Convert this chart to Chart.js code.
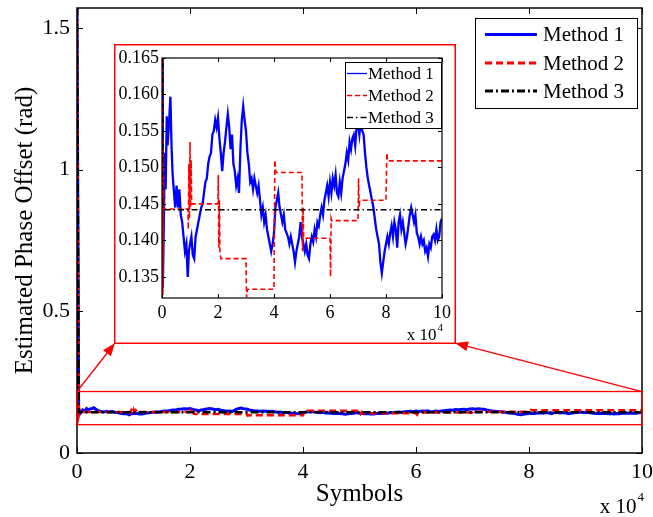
<!DOCTYPE html>
<html>
<head>
<meta charset="utf-8">
<script src="https://cdn.jsdelivr.net/npm/chart.js@4.4.1/dist/chart.umd.min.js"></script>
<style>
  html, body { margin: 0; padding: 0; background: #fff; }
  #wrap { position: relative; width: 653px; height: 517px; }
  #mainChart { position: absolute; left: 0; top: 0; }
  #insetChart { position: absolute; left: 114px; top: 44px; }
</style>
</head>
<body>
<div id="wrap">
  <canvas id="mainChart" width="653" height="517"></canvas>
  <canvas id="insetChart" width="342" height="300"></canvas>
</div>
<script>
// ---------------- data (x in units of 10^4 symbols) ----------------
const START = 1.5708;   // initial phase estimate (pi/2)

const m1X = [0, 0.03, 0.06, 0.1, 0.13, 0.17, 0.2, 0.25, 0.3, 0.34, 0.38, 0.42, 0.47, 0.52, 0.57, 0.62, 0.67, 0.72, 0.77, 0.82, 0.87, 0.92, 0.96,
  1.0, 1.05, 1.1, 1.15, 1.2, 1.25, 1.3, 1.35, 1.4, 1.45, 1.5, 1.55, 1.6, 1.65, 1.7, 1.75, 1.8, 1.85, 1.9, 1.95,
  2.0, 2.05, 2.1, 2.15, 2.2, 2.25, 2.3, 2.35, 2.4, 2.45, 2.5, 2.55, 2.6, 2.65, 2.7, 2.75, 2.8, 2.85, 2.9, 2.95,
  3.0, 3.05, 3.1, 3.15, 3.2, 3.25, 3.3, 3.35, 3.4, 3.45, 3.5, 3.55, 3.6, 3.65, 3.7, 3.75, 3.8, 3.85, 3.9, 3.95,
  4.0, 4.05, 4.1, 4.15, 4.2, 4.25, 4.3, 4.35, 4.4, 4.45, 4.5, 4.55, 4.6, 4.65, 4.7, 4.75, 4.8, 4.85, 4.9, 4.95,
  5.0, 5.05, 5.1, 5.15, 5.2, 5.25, 5.3, 5.35, 5.4, 5.45, 5.5, 5.55, 5.6, 5.65, 5.7, 5.75, 5.8, 5.85, 5.9, 5.95,
  6.0, 6.05, 6.1, 6.15, 6.2, 6.25, 6.3, 6.35, 6.4, 6.45, 6.5, 6.55, 6.6, 6.65, 6.7, 6.75, 6.8, 6.85, 6.9, 6.95,
  7.0, 7.05, 7.1, 7.15, 7.2, 7.25, 7.3, 7.35, 7.4, 7.45, 7.5, 7.55, 7.6, 7.65, 7.7, 7.75, 7.8, 7.85, 7.9, 7.95,
  8.0, 8.05, 8.1, 8.15, 8.2, 8.25, 8.3, 8.35, 8.4, 8.45, 8.5, 8.55, 8.6, 8.65, 8.7, 8.75, 8.8, 8.85, 8.9, 8.95,
  9.0, 9.05, 9.1, 9.15, 9.2, 9.25, 9.3, 9.35, 9.4, 9.45, 9.5, 9.55, 9.6, 9.65, 9.7, 9.75, 9.8, 9.85, 9.9, 9.95, 10.0];
const m1Y = [START, 0.1335, 0.141, 0.152, 0.147, 0.157, 0.153, 0.156, 0.1597, 0.153, 0.149, 0.147, 0.1445, 0.1475, 0.1445, 0.147, 0.1435, 0.1425, 0.1405, 0.1385, 0.1395, 0.135, 0.1385,
  0.1395, 0.1405, 0.138, 0.1375, 0.1405, 0.1415, 0.1425, 0.1435, 0.1445, 0.145, 0.1465, 0.148, 0.1485, 0.1505, 0.1515, 0.152, 0.1545, 0.155, 0.1565, 0.1555,
  0.1568, 0.154, 0.152, 0.1495, 0.152, 0.1535, 0.1555, 0.1573, 0.1555, 0.1525, 0.1545, 0.1505, 0.1495, 0.1475, 0.1485, 0.1465, 0.1525, 0.1565, 0.1584, 0.1565,
  0.155, 0.152, 0.1505, 0.148, 0.1485, 0.147, 0.1485, 0.1475, 0.1465, 0.1475, 0.1455, 0.1435, 0.1445, 0.1425, 0.1435, 0.1415, 0.1405, 0.1395, 0.1385, 0.1395,
  0.141, 0.1445, 0.1455, 0.1465, 0.1445, 0.1435, 0.1425, 0.1435, 0.1415, 0.141, 0.1405, 0.1395, 0.1405, 0.1395, 0.1385, 0.137, 0.1385, 0.1395, 0.1405, 0.1425,
  0.1405, 0.1395, 0.1385, 0.1395, 0.138, 0.1375, 0.1395, 0.1405, 0.1398, 0.1415, 0.1405, 0.1425, 0.142, 0.1435, 0.1445, 0.1435, 0.1455, 0.1465, 0.1475, 0.146,
  0.148, 0.1465, 0.1485, 0.1475, 0.149, 0.1465, 0.146, 0.148, 0.1465, 0.1485, 0.1495, 0.1505, 0.152, 0.151, 0.1535, 0.1525, 0.154, 0.1545, 0.153, 0.1555,
  0.156, 0.1545, 0.1565, 0.155, 0.1545, 0.152, 0.15, 0.1485, 0.1475, 0.1465, 0.1455, 0.1445, 0.143, 0.1415, 0.1405, 0.1395, 0.137, 0.1355, 0.137, 0.1385,
  0.1395, 0.1405, 0.1395, 0.141, 0.142, 0.1405, 0.1425, 0.1415, 0.139, 0.1425, 0.1435, 0.1415, 0.1425, 0.141, 0.1395, 0.1405, 0.142, 0.1435, 0.1445, 0.1435,
  0.1425, 0.1435, 0.141, 0.1405, 0.1395, 0.1405, 0.1395, 0.14, 0.1385, 0.139, 0.1378, 0.1395, 0.139, 0.1405, 0.1408, 0.14, 0.1415, 0.14, 0.1405, 0.1425, 0.143];

const m2X = [0, 0.03, 0.05, 0.07, 0.93, 0.94, 0.96, 0.98, 1.0, 1.02, 1.04, 1.06,
  2.0, 2.01, 2.03, 2.05, 2.07, 2.1, 3.0, 3.02, 3.05, 4.0, 4.03, 4.06, 4.08,
  5.0, 5.02, 5.04, 5.06, 6.0, 6.02, 6.04, 6.06, 7.0, 7.02, 7.04, 7.06, 8.0, 8.03, 8.06, 10.0];
const m2Y = [START, 0.1325, 0.152, 0.1443, 0.1443, 0.1415, 0.1505, 0.143, 0.1535, 0.1445, 0.151, 0.145,
  0.145, 0.149, 0.139, 0.1455, 0.1385, 0.1375, 0.1375, 0.1322, 0.1333, 0.1333, 0.151, 0.1495, 0.1493,
  0.1493, 0.1385, 0.1445, 0.1403, 0.1403, 0.135, 0.143, 0.1427, 0.1427, 0.1485, 0.1445, 0.1455, 0.1455, 0.152, 0.1509, 0.1509];

const m3X = [0, 0.03, 10.0];
const m3Y = [START, 0.1442, 0.1442];

const seriesNames = ['Method 1', 'Method 2', 'Method 3'];
const mainYTicks = [0, 0.5, 1, 1.5];
const xTickStep = 2;
const insetYTickStep = 0.005;
const zoomBox = { x0: 0, x1: 10, y0: 0.1, y1: 0.217 };

// ---------------- helpers ----------------
const FONT = "'Liberation Serif', 'Times New Roman', serif";

function pts(xs, ys) {
  return xs.map((x, i) => ({ x: x, y: ys[i] }));
}

function makeDatasets(inset) {
  return [
    { label: seriesNames[0], data: pts(m1X, m1Y), borderColor: '#0000ff', borderWidth: inset ? 2.3 : 3,
      borderDash: [], order: 3 },
    { label: seriesNames[1], data: pts(m2X, m2Y), borderColor: '#ff0000', borderWidth: inset ? 1.6 : 2.5,
      borderDash: inset ? [5, 3] : [7, 4], order: 2 },
    { label: seriesNames[2], data: pts(m3X, m3Y), borderColor: '#000000', borderWidth: inset ? 1.3 : 2.5,
      borderDash: inset ? [6, 3, 1.5, 3] : [8, 3, 2, 3], order: 1 }
  ].map(d => Object.assign(d, { pointRadius: 0, tension: 0, fill: false, backgroundColor: d.borderColor }));
}

// drop chart.js' automatic label padding so the plot box lands where we want it
function noPad(s) {
  s.paddingTop = 0; s.paddingBottom = 0; s.paddingLeft = 0; s.paddingRight = 0;
}

// frame + inward MATLAB ticks
function drawFrame(chart, tickLen, lw) {
  const { ctx, chartArea: a, scales } = chart;
  ctx.save();
  ctx.strokeStyle = '#000';
  ctx.lineWidth = lw;
  ctx.strokeRect(a.left, a.top, a.right - a.left, a.bottom - a.top);
  ctx.lineWidth = 1;
  ctx.beginPath();
  scales.x.ticks.forEach(t => {
    const px = Math.round(scales.x.getPixelForValue(t.value)) + 0.5;
    ctx.moveTo(px, a.bottom); ctx.lineTo(px, a.bottom - tickLen);
    ctx.moveTo(px, a.top); ctx.lineTo(px, a.top + tickLen);
  });
  scales.y.ticks.forEach(t => {
    const py = Math.round(scales.y.getPixelForValue(t.value)) + 0.5;
    ctx.moveTo(a.left, py); ctx.lineTo(a.left + tickLen, py);
    ctx.moveTo(a.right, py); ctx.lineTo(a.right - tickLen, py);
  });
  ctx.stroke();
  ctx.restore();
}

function drawLegend(chart, box, lineX0, lineX1, textX, rowYs, fontSize, sampleWidth) {
  const ctx = chart.ctx;
  ctx.save();
  ctx.fillStyle = '#fff';
  ctx.fillRect(box.x, box.y, box.w, box.h);
  ctx.strokeStyle = '#000';
  ctx.lineWidth = 1;
  ctx.strokeRect(box.x + 0.5, box.y + 0.5, box.w, box.h);
  chart.data.datasets.forEach((ds, i) => {
    const y = rowYs[i];
    ctx.strokeStyle = ds.borderColor;
    ctx.lineWidth = sampleWidth;
    ctx.setLineDash(ds.borderDash || []);
    ctx.beginPath();
    ctx.moveTo(lineX0, y); ctx.lineTo(lineX1, y);
    ctx.stroke();
    ctx.setLineDash([]);
    ctx.fillStyle = '#000';
    ctx.font = fontSize + 'px ' + FONT;
    ctx.textBaseline = 'middle';
    ctx.textAlign = 'left';
    ctx.fillText(ds.label, textX, y + 1);
  });
  ctx.restore();
}

function drawExponent(ctx, xRight, yMid, fontSize) {
  ctx.save();
  ctx.fillStyle = '#000';
  ctx.textBaseline = 'middle';
  ctx.font = Math.round(fontSize * 0.62) + 'px ' + FONT;
  const supW = ctx.measureText('4').width;
  ctx.textAlign = 'right';
  ctx.fillText('4', xRight, yMid - fontSize * 0.45);
  ctx.font = fontSize + 'px ' + FONT;
  ctx.fillText('x 10', xRight - supW - 1, yMid);
  ctx.restore();
}

function arrow(ctx, x0, y0, x1, y1) {
  const ang = Math.atan2(y1 - y0, x1 - x0);
  const L = 13, W = 5;
  ctx.beginPath();
  ctx.moveTo(x0, y0);
  ctx.lineTo(x1 - L * Math.cos(ang), y1 - L * Math.sin(ang));
  ctx.stroke();
  ctx.beginPath();
  ctx.moveTo(x1, y1);
  ctx.lineTo(x1 - L * Math.cos(ang) + W * Math.sin(ang), y1 - L * Math.sin(ang) - W * Math.cos(ang));
  ctx.lineTo(x1 - L * Math.cos(ang) - W * Math.sin(ang), y1 - L * Math.sin(ang) + W * Math.cos(ang));
  ctx.closePath();
  ctx.fill();
}

// ---------------- main chart ----------------
const INSET_POS = { left: 114, top: 44, w: 342, h: 300 };

const mainDecor = {
  id: 'mainDecor',
  beforeDraw(chart) {
    const ctx = chart.ctx;
    ctx.save();
    ctx.fillStyle = '#fff';
    ctx.fillRect(0, 0, chart.width, chart.height);
    ctx.restore();
  },
  afterDraw(chart) {
    const { ctx, scales } = chart;
    drawFrame(chart, 6, 1.5);

    // zoomed region + arrows to the inset
    const zx0 = scales.x.getPixelForValue(zoomBox.x0), zx1 = scales.x.getPixelForValue(zoomBox.x1);
    const zy0 = scales.y.getPixelForValue(zoomBox.y1), zy1 = scales.y.getPixelForValue(zoomBox.y0);
    ctx.save();
    ctx.strokeStyle = '#ff0000';
    ctx.fillStyle = '#ff0000';
    ctx.lineWidth = 1.3;
    ctx.strokeRect(zx0, zy0, zx1 - zx0, zy1 - zy0);
    const ib = INSET_POS.top + INSET_POS.h - 1;
    arrow(ctx, zx0, zy0, INSET_POS.left + 1, ib);
    arrow(ctx, zx1, zy0, INSET_POS.left + INSET_POS.w - 1, ib);
    ctx.restore();

    drawLegend(chart, { x: 475, y: 18, w: 162, h: 90 }, 485, 537, 543, [34.5, 63, 91], 21, 3);
    drawExponent(ctx, 644, 507, 21);
  }
};

new Chart(document.getElementById('mainChart'), {
  type: 'line',
  data: { datasets: makeDatasets(false) },
  options: {
    responsive: false,
    animation: false,
    layout: { padding: { top: 8, right: 11, left: 0, bottom: 0 } },
    plugins: { legend: { display: false }, tooltip: { enabled: false } },
    scales: {
      x: {
        type: 'linear', min: 0, max: 10,
        grid: { display: false, drawTicks: false },
        border: { display: false },
        ticks: { stepSize: xTickStep, color: '#000', font: { family: FONT, size: 22 }, padding: 6, maxRotation: 0, autoSkip: false },
        title: { display: true, text: 'Symbols', color: '#000', font: { family: FONT, size: 25 }, padding: { top: 0, bottom: 8 } },
        afterFit: s => { s.height = 64; noPad(s); }
      },
      y: {
        type: 'linear', min: 0, max: START,
        grid: { display: false, drawTicks: false },
        border: { display: false },
        afterBuildTicks: s => { s.ticks = mainYTicks.map(v => ({ value: v })); },
        ticks: { color: '#000', font: { family: FONT, size: 22 }, padding: 7, callback: v => String(v) },
        title: { display: true, text: 'Estimated Phase Offset (rad)', color: '#000', font: { family: FONT, size: 25 }, padding: { top: 10, bottom: 0 } },
        afterFit: s => { s.width = 77; noPad(s); }
      }
    }
  },
  plugins: [mainDecor]
});

// ---------------- inset chart ----------------
const insetDecor = {
  id: 'insetDecor',
  beforeDraw(chart) {
    const ctx = chart.ctx;
    ctx.save();
    ctx.fillStyle = '#fff';
    ctx.fillRect(0, 0, chart.width, chart.height);
    ctx.restore();
  },
  afterDraw(chart) {
    const ctx = chart.ctx;
    drawFrame(chart, 4, 1.2);
    drawLegend(chart, { x: 231, y: 18, w: 96, h: 66 }, 233, 253, 254, [29.5, 51.5, 73.5], 17, 1.3);
    drawExponent(ctx, 329, 292, 17);
    ctx.save();
    ctx.strokeStyle = '#ff0000';
    ctx.lineWidth = 1.5;
    ctx.strokeRect(0.75, 0.75, chart.width - 1.5, chart.height - 1.5);
    ctx.restore();
  }
};

new Chart(document.getElementById('insetChart'), {
  type: 'line',
  data: { datasets: makeDatasets(true) },
  options: {
    responsive: false,
    animation: false,
    layout: { padding: { top: 14, right: 14, left: 0, bottom: 0 } },
    plugins: { legend: { display: false }, tooltip: { enabled: false } },
    scales: {
      x: {
        type: 'linear', min: 0, max: 10,
        grid: { display: false, drawTicks: false },
        border: { display: false },
        ticks: { stepSize: xTickStep, color: '#000', font: { family: FONT, size: 18 }, padding: 4, maxRotation: 0, autoSkip: false },
        afterFit: s => { s.height = 46; noPad(s); }
      },
      y: {
        type: 'linear', min: 0.1321, max: 0.165,
        grid: { display: false, drawTicks: false },
        border: { display: false },
        ticks: { stepSize: insetYTickStep, includeBounds: false, color: '#000', font: { family: FONT, size: 18 }, padding: 3 },
        afterFit: s => { s.width = 48; noPad(s); }
      }
    }
  },
  plugins: [insetDecor]
});
</script>
</body>
</html>
